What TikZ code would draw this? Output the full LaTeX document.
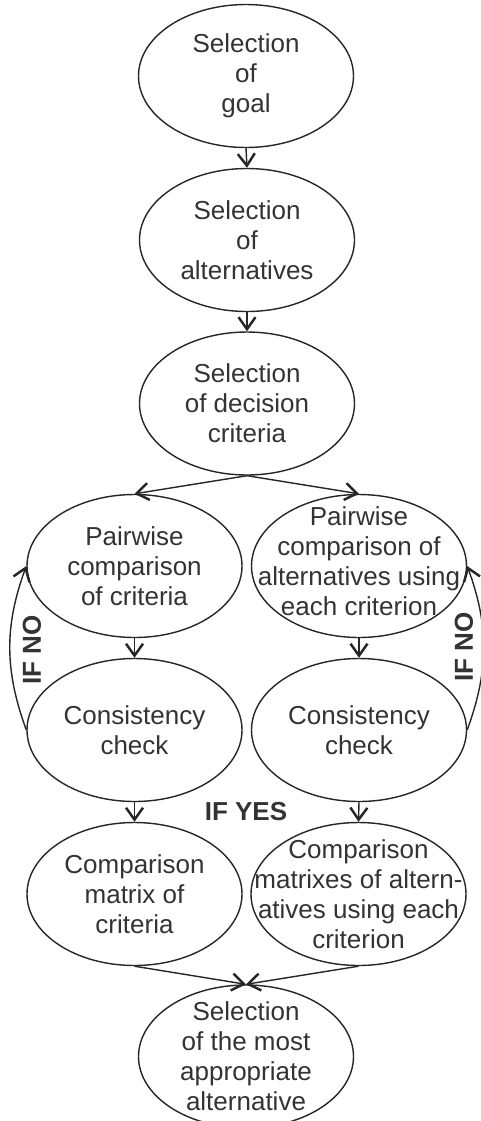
\documentclass[tikz,border=0pt]{standalone}
\usepackage{fontspec}
\setmainfont{Liberation Sans}
\usetikzlibrary{arrows.meta,shapes.geometric}
\definecolor{ink}{HTML}{262626}
\definecolor{textgray}{HTML}{333333}
\tikzset{
    >={Straight Barb[length=2.4mm,width=3.4mm,line width=1.4pt]},
    bubble/.style={ellipse, draw=ink, line width=0.8pt,
                   minimum width=4.3cm, minimum height=2.86cm, inner sep=0pt},
    bubble text/.style={align=center, text=textgray,
                        font=\fontsize{14.8pt}{17.07pt}\selectfont},
    flowline/.style={ink, line width=0.8pt, ->},
    verdict/.style={text=textgray,
                    font=\fontsize{14.8pt}{17.07pt}\selectfont\bfseries},
}

\begin{document}
\begin{tikzpicture}
\useasboundingbox (0,0) rectangle (9.62,-22.42);

% ---------------------------------------------------------------------------
% Common trunk
% ---------------------------------------------------------------------------
\node[bubble] (goal) at (4.92,-1.52) {};
\node[bubble text] (goal-t) at (goal) {Selection\\of\\goal};

\node[bubble] (alts) at (4.94,-4.80) {};
\node[bubble text] (alts-t) at (alts) {Selection\\of\\alternatives};

\node[bubble] (crit) at (4.94,-8.07) {};
\node[bubble text] (crit-t) at (crit) {Selection\\of decision\\criteria};

\draw[flowline] (goal.south) -- (alts.north);
\draw[flowline] (alts.south) -- (crit.north);

% ---------------------------------------------------------------------------
% Two branches
% ---------------------------------------------------------------------------
\node[bubble] (pcrit) at (2.69,-11.32) {};
\node[bubble text] (pcrit-t) at (pcrit) {Pairwise\\comparison\\of criteria};
\node[bubble] (palt) at (7.18,-11.32) {};
\node[bubble text] (palt-t) at ([yshift=0.1cm]palt)
    {Pairwise\\comparison of\\alternatives using\\each criterion};

\node[bubble] (ccrit) at (2.69,-14.60) {};
\node[bubble text] (ccrit-t) at (ccrit) {Consistency\\check};
\node[bubble] (calt) at (7.18,-14.60) {};
\node[bubble text] (calt-t) at (calt) {Consistency\\check};

\node[bubble] (mcrit) at (2.69,-17.88) {};
\node[bubble text] (mcrit-t) at (mcrit) {Comparison\\matrix of\\criteria};
\node[bubble] (malt) at (7.17,-17.88) {};
\node[bubble text] (malt-t) at (malt)
    {Comparison\\matrixes of altern-\\atives using each\\criterion};

\draw[flowline] (crit.south) -- (pcrit.north);
\draw[flowline] (crit.south) -- (palt.north);
\draw[flowline] (pcrit.south) -- (ccrit.north);
\draw[flowline] (palt.south) -- (calt.north);
\draw[flowline] (ccrit.south) -- (mcrit.north);
\draw[flowline] (calt.south) -- (malt.north);

% feedback loops
\draw[flowline] (ccrit.west) to[out=110,in=-110] (pcrit.west);
\draw[flowline] (calt.east) to[out=70,in=-70] (palt.east);
\node[verdict, rotate=90] (no-l) at (0.64,-13.00) {IF NO};
\node[verdict, rotate=90] (no-r) at (9.28,-12.94) {IF NO};
\node[verdict] (yes) at (4.92,-16.24) {IF YES};

% ---------------------------------------------------------------------------
% Final choice
% ---------------------------------------------------------------------------
\node[bubble] (best) at (4.92,-21.13) {};
\node[bubble text] (best-t) at (best)
    {Selection\\of the most\\appropriate\\alternative};

\draw[flowline] (mcrit.south) -- (best.north);
\draw[flowline] (malt.south) -- (best.north);

\end{tikzpicture}
\end{document}
